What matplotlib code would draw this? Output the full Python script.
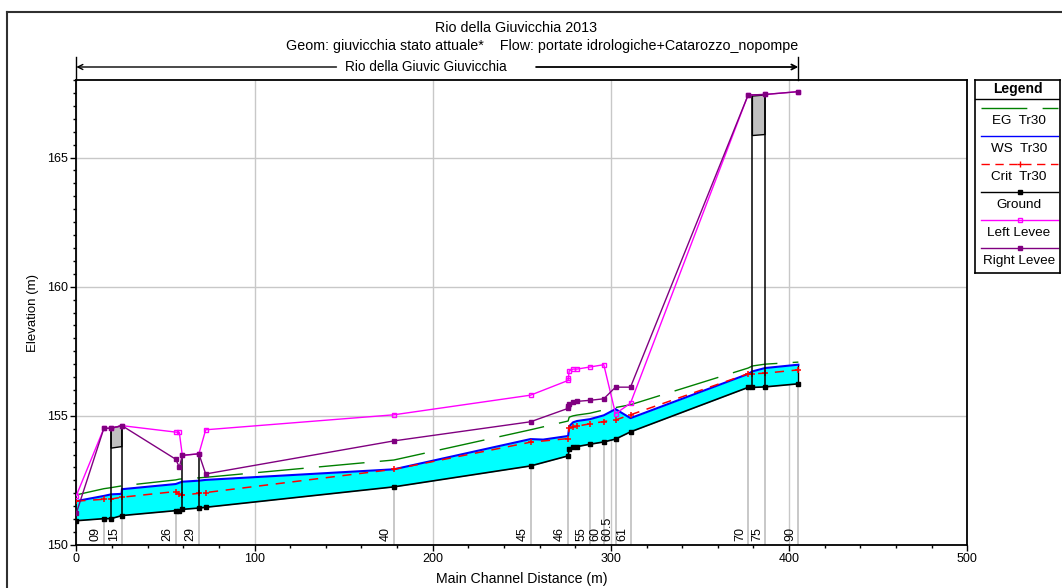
import matplotlib
matplotlib.use("Agg")
import matplotlib.pyplot as plt
from matplotlib.ticker import MultipleLocator
from matplotlib.lines import Line2D
from matplotlib.patches import Polygon
import matplotlib.transforms as mtransforms
import numpy as np

plt.rcParams['font.family'] = ['Liberation Sans', 'DejaVu Sans']

# ---------------- profile data (main channel distance m, elevation m) ----------------
ground_x = [0.0, 15.5, 19.5, 25.6, 55.8, 57.8, 59.5, 68.8, 72.6, 178.2, 254.9, 276.0,
            276.6, 278.8, 281.0, 288.2, 296.0, 302.6, 311.0, 377.0, 379.4, 386.5, 405.2]
ground_z = [150.94, 151.02, 151.02, 151.14, 151.33, 151.33, 151.38, 151.43, 151.46, 152.25,
            153.06, 153.45, 153.71, 153.79, 153.81, 153.90, 153.99, 154.10, 154.38, 156.10,
            156.10, 156.12, 156.24]

ws_x = [0.0, 15.5, 19.5, 25.4, 25.6, 55.8, 57.8, 59.5, 68.8, 72.6, 178.2, 254.9, 262.0,
        276.0, 276.6, 278.8, 281.0, 288.2, 296.0, 302.6, 311.0, 377.0, 379.4, 386.5, 405.2]
ws_z = [151.70, 151.90, 151.96, 151.98, 152.16, 152.36, 152.41, 152.45, 152.49, 152.52,
        152.93, 154.10, 154.08, 154.22, 154.60, 154.75, 154.80, 154.87, 155.02, 155.26,
        154.91, 156.62, 156.72, 156.85, 156.98]

crit_z = [151.70, 151.77, 151.78, 151.85, 152.07, 151.96, 151.93, 152.00, 152.03, 152.93,
          153.98, 154.12, 154.52, 154.58, 154.60, 154.69, 154.78, 154.84, 155.04, 156.63,
          156.63, 156.65, 156.78]

eg_z = [151.94, 152.18, 152.22, 152.29, 152.52, 152.55, 152.56, 152.60, 152.62, 153.29,
        154.46, 154.80, 154.95, 155.00, 155.03, 155.10, 155.23, 155.32, 155.43, 156.85,
        156.93, 157.00, 157.08]

levee_x = [0.0, 15.5, 19.5, 25.6, 55.8, 57.8, 59.5, 68.8, 72.6, 178.2, 254.9, 276.0, 276.1,
           276.6, 278.8, 281.0, 288.2, 296.0, 302.6, 311.0, 377.0, 386.5, 405.2]
left_levee_z = [151.91, 154.52, 154.52, 154.62, 154.37, 154.36, 153.47, 153.53, 154.46,
                155.04, 155.80, 156.37, 156.45, 156.74, 156.81, 156.81, 156.89, 156.98,
                155.08, 155.49, 167.42, 167.44, 167.55]
right_levee_z = [151.23, 154.52, 154.52, 154.62, 153.32, 153.01, 153.47, 153.53, 152.75,
                 154.03, 154.77, 155.29, 155.38, 155.47, 155.52, 155.56, 155.60, 155.66,
                 156.11, 156.11, 167.42, 167.44, 167.55]

# structures
deck1_x = [19.5, 25.6]
deck1_top = [154.52, 154.62]
deck1_low = [153.75, 153.81]
culvert_x = [59.5, 68.8]
culvert_top = [153.47, 153.53]
deck2_x = [379.4, 386.5]
deck2_top = [167.38, 167.42]
deck2_low = [165.85, 165.89]

# river stations shown along the bottom
station_labels = ['09', '15', '26', '29', '40', '45', '46', '55', '60', '60.5', '61',
                  '70', '75', '90']
station_x = [15.5, 25.6, 55.8, 68.8, 178.2, 254.9, 276.0, 288.2, 296.0, 302.6, 311.0,
             377.0, 386.5, 405.2]

reach_name = 'Rio della Giuvic Giuvicchia'
title_1 = 'Rio della Giuvicchia 2013'
title_2 = 'Geom: giuvicchia stato attuale*    Flow: portate idrologiche+Catarozzo_nopompe'
legend_labels = ['EG  Tr30', 'WS  Tr30', 'Crit  Tr30', 'Ground', 'Left Levee', 'Right Levee']

# ---------------- colours ----------------
C_EG = '#008000'
C_WS = '#0000FF'
C_CRIT = '#FF0000'
C_GROUND = '#000000'
C_LEFT = '#FF00FF'
C_RIGHT = '#800080'
C_WATER = '#00FFFF'
C_DECK = '#C0C0C0'
C_GRID = '#C8C8C8'

W, H = 1062, 588
fig = plt.figure(figsize=(W / 100, H / 100), dpi=100)
fig.patch.set_facecolor('white')

ax_l, ax_r, ax_t, ax_b = 76.3, 967.3, 80, 545
ax = fig.add_axes([ax_l / W, 1 - ax_b / H, (ax_r - ax_l) / W, (ax_b - ax_t) / H])
ax.set_xlim(0, 500)
ax.set_ylim(150, 168)

ax.xaxis.set_major_locator(MultipleLocator(100))
ax.xaxis.set_minor_locator(MultipleLocator(20))
ax.yaxis.set_major_locator(MultipleLocator(5))
ax.yaxis.set_minor_locator(MultipleLocator(0.5))
ax.tick_params(which='major', direction='out', length=4, width=1, labelsize=9, pad=2)
ax.tick_params(which='minor', direction='out', length=2.5, width=1)
for sp in ax.spines.values():
    sp.set_linewidth(1.3)
ax.grid(True, which='major', color=C_GRID, lw=1.0, zorder=0)
ax.set_axisbelow(True)

# axis titles
fig.text((ax_l + ax_r) / 2 / W, 1 - 579 / H, 'Main Channel Distance (m)',
         ha='center', va='center', fontsize=10.2)
fig.text(33 / W, 1 - (ax_t + ax_b) / 2 / H, 'Elevation (m)', rotation=90,
         ha='center', va='center', fontsize=9.5)

gx = np.array(ground_x)
gz = np.array(ground_z)

# station lines and labels
for lab, sx in zip(station_labels, station_x):
    zg = np.interp(sx, gx, gz)
    ax.plot([sx, sx], [150, zg], color=C_GRID, lw=1.4, zorder=1)
    ax.text(sx - 1.2, 150.15, lab, rotation=90, ha='right', va='bottom', fontsize=9, zorder=2)

# water between ground and water surface
wx = np.array(ws_x)
wz = np.array(ws_z)
allx = np.union1d(gx, wx)
ax.fill_between(allx, np.interp(allx, gx, gz), np.interp(allx, wx, wz),
                color=C_WATER, lw=0, zorder=2)
ax.plot([gx[-1], gx[-1]], [gz[-1], wz[-1]], color='black', lw=1.0, zorder=3)

# energy grade
eg_line, = ax.plot(ground_x, eg_z, color=C_EG, lw=1.0, zorder=3)
eg_line.set_dashes([33, 11])
# water surface
ax.plot(ws_x, ws_z, color=C_WS, lw=1.5, zorder=4)
# critical depth
crit_line, = ax.plot(ground_x, crit_z, color=C_CRIT, lw=1.1, zorder=5,
                     marker='+', ms=5, mew=1.1)
crit_line.set_dashes([6, 5])
# ground
ax.plot(ground_x, ground_z, color=C_GROUND, lw=1.2, marker='s', ms=3.5, zorder=6)

# structures
for xs, top, low in [(deck1_x, deck1_top, deck1_low), (deck2_x, deck2_top, deck2_low)]:
    poly = Polygon(list(zip(xs, top)) + list(zip(xs[::-1], low[::-1])), closed=True,
                   facecolor=C_DECK, edgecolor='black', lw=1.0, zorder=6)
    ax.add_patch(poly)
for xs, top in [(deck1_x, deck1_top), (culvert_x, culvert_top), (deck2_x, deck2_top)]:
    for x, t in zip(xs, top):
        ax.plot([x, x], [np.interp(x, gx, gz), t], color='black', lw=1.1, zorder=6)

# levees
ax.plot(levee_x, left_levee_z, color=C_LEFT, lw=1.0, marker='s', ms=3.5,
        mfc='none', mec=C_LEFT, mew=1.0, zorder=7)
ax.plot(levee_x, right_levee_z, color=C_RIGHT, lw=1.0, marker='s', ms=3.5,
        mfc=C_RIGHT, mec=C_RIGHT, zorder=7)

# reach extent arrow above the plot
trans = mtransforms.blended_transform_factory(ax.transData, fig.transFigure)
y_arr = 1 - 67 / H
reach_end = ground_x[-1]
for xv in (0.0, reach_end):
    ax.add_line(Line2D([xv, xv], [1 - 57 / H, 1 - ax_t / H], transform=trans,
                       color='black', lw=1.0, clip_on=False))
ax.annotate('', xy=(0.0, y_arr), xytext=(146, y_arr), xycoords=trans, textcoords=trans,
            arrowprops=dict(arrowstyle='->', color='black', lw=1.0, shrinkA=0, shrinkB=0,
                            mutation_scale=9), annotation_clip=False)
ax.annotate('', xy=(reach_end, y_arr), xytext=(258, y_arr), xycoords=trans, textcoords=trans,
            arrowprops=dict(arrowstyle='->', color='black', lw=1.3, shrinkA=0, shrinkB=0,
                            mutation_scale=9), annotation_clip=False)
ax.text(196, y_arr, reach_name, transform=trans, ha='center', va='center', fontsize=9.8)

# titles
fig.text(516 / W, 1 - 28 / H, title_1, ha='center', va='center', fontsize=10.3)
fig.text(542 / W, 1 - 46 / H, title_2, ha='center', va='center', fontsize=10.3)

# outer frame
fig.add_artist(Line2D([7 / W, 1.0], [1 - 12 / H, 1 - 12 / H], transform=fig.transFigure,
                      color='#303030', lw=1.5))
fig.add_artist(Line2D([7 / W, 7 / W], [0.0, 1 - 12 / H], transform=fig.transFigure,
                      color='#303030', lw=1.5))

# legend panel
lg_l, lg_r, lg_t, lg_b = 975, 1060, 80, 273
lax = fig.add_axes([lg_l / W, 1 - lg_b / H, (lg_r - lg_l) / W, (lg_b - lg_t) / H])
lax.set_xlim(lg_l, lg_r)
lax.set_ylim(lg_b, lg_t)
lax.set_xticks([])
lax.set_yticks([])
for sp in lax.spines.values():
    sp.set_linewidth(1.2)
lax.text((lg_l + lg_r) / 2, 89, 'Legend', ha='center', va='center', fontsize=10,
         fontweight='bold')
lax.plot([lg_l, lg_r], [98.5, 98.5], color='black', lw=1.0)
x0, x1, xm = 981, 1058, 1020
row = 28
for i, lab in enumerate(legend_labels):
    yl = 107.5 + i * row
    yt = 121 + i * row
    if i == 0:
        l, = lax.plot([x0, x1], [yl, yl], color=C_EG, lw=1.0)
        l.set_dashes([33, 11])
    elif i == 1:
        lax.plot([x0, x1], [yl, yl], color=C_WS, lw=1.0)
    elif i == 2:
        l, = lax.plot([x0, x1], [yl, yl], color=C_CRIT, lw=1.0)
        l.set_dashes([6, 4])
        lax.plot([xm], [yl], marker='+', color=C_CRIT, ms=4)
    elif i == 3:
        lax.plot([x0, x1], [yl, yl], color='black', lw=1.0)
        lax.plot([xm], [yl], marker='s', color='black', ms=3)
    elif i == 4:
        lax.plot([x0, x1], [yl, yl], color=C_LEFT, lw=1.0)
        lax.plot([xm], [yl], marker='s', mfc='none', mec=C_LEFT, ms=3)
    else:
        lax.plot([x0, x1], [yl, yl], color=C_RIGHT, lw=1.0)
        lax.plot([xm], [yl], marker='s', color=C_RIGHT, ms=3)
    lax.text(xm - 1, yt, lab, ha='center', va='center', fontsize=9.7)

fig.savefig('out.png', dpi=100)
